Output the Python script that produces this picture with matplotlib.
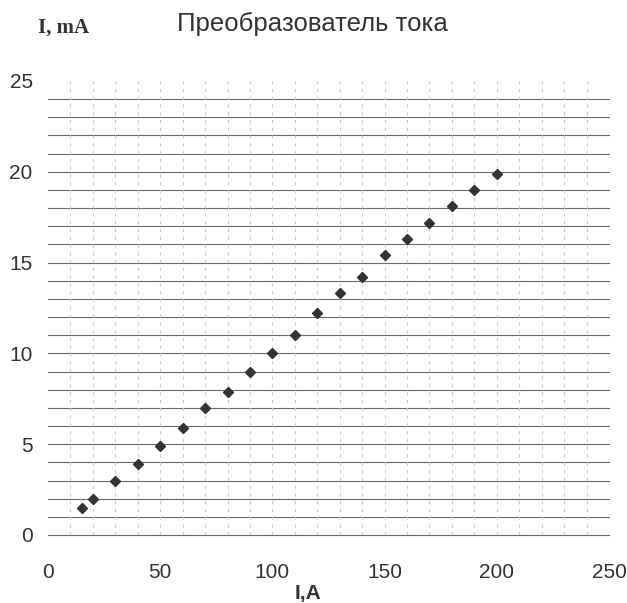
import matplotlib
matplotlib.use("Agg")
import matplotlib.pyplot as plt
import numpy as np

current_a = [15, 20, 30, 40, 50, 60, 70, 80, 90, 100, 110, 120, 130, 140, 150, 160, 170, 180, 190, 200]
current_ma = [1.5, 2.0, 3.0, 3.9, 4.9, 5.9, 7.0, 7.9, 9.0, 10.0, 11.0, 12.2, 13.3, 14.2, 15.4, 16.3, 17.2, 18.1, 19.0, 19.9]
x_ticks = [0, 50, 100, 150, 200, 250]
y_ticks = [0, 5, 10, 15, 20, 25]

W, H = 627, 603
fig = plt.figure(figsize=(W / 100, H / 100), dpi=100)
ax = fig.add_axes([48 / W, 1 - 535 / H, (609 - 48) / W, (535 - 81) / H])
ax.set_xlim(0, 250)
ax.set_ylim(0, 25)

for s in ax.spines.values():
    s.set_visible(False)

# grid
for yv in range(0, 25):
    ax.axhline(yv, color='#6a6a6a', lw=0.8, zorder=1, clip_on=False)
for xv in range(10, 251, 10):
    ax.axvline(xv, color='#cccccc', lw=0.8, ls=(0, (3, 4)), zorder=1)

ax.plot(current_a, current_ma, ls='none', marker='D', ms=5.5, color='#333333', zorder=3)

ax.set_xticks(x_ticks)
ax.set_yticks(y_ticks)
ax.tick_params(length=0, labelsize=15, labelcolor='#333333')
ax.tick_params(axis='x', pad=20)
ax.tick_params(axis='y', pad=11)
for lab in ax.get_xticklabels() + ax.get_yticklabels():
    lab.set_family('Liberation Sans')

fig.text(312 / W, 1 - 24 / H, 'Преобразователь тока', ha='center', va='center',
         fontsize=18.5, family='Liberation Sans', color='#333333')
fig.text(38 / W, 1 - 28 / H, 'I, mA', ha='left', va='center', fontsize=15,
         family='Liberation Serif', weight='bold', color='#333333')
fig.text(308 / W, 1 - 593 / H, 'I,A', ha='center', va='center', fontsize=15,
         family='Liberation Sans', weight='bold', color='#333333')

fig.savefig('out.png', dpi=100)
